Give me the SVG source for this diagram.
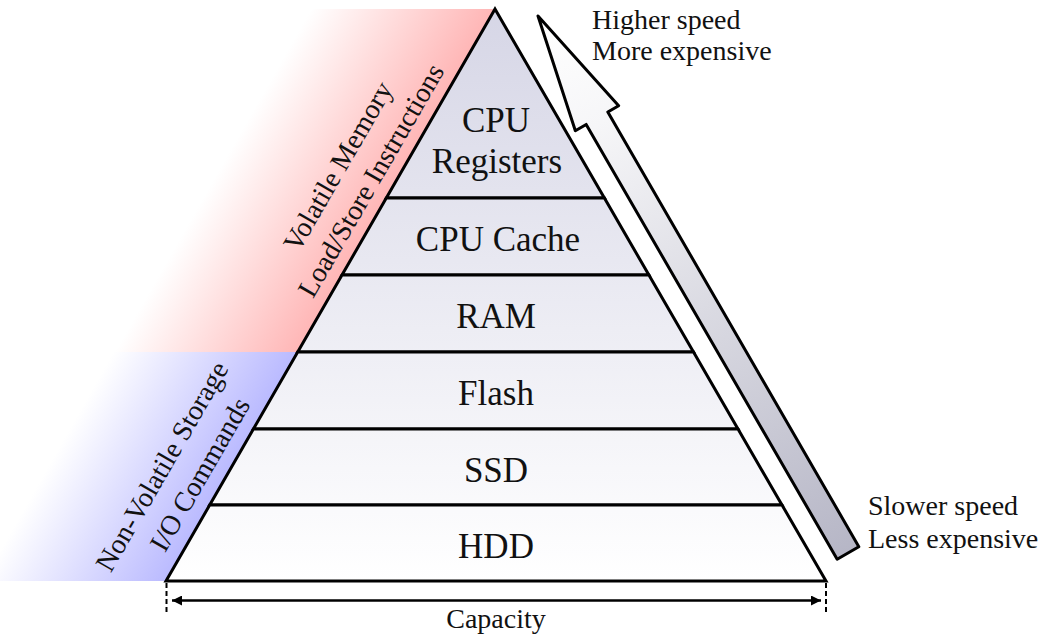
<svg xmlns="http://www.w3.org/2000/svg" width="1046" height="637" viewBox="0 0 1046 637">
<style>
  .band { stroke: #000; stroke-width: 3; stroke-linejoin: miter; fill: url(#bandGrad); }
  .lbl { font-family: "Liberation Serif", "Times New Roman", serif; font-size: 35px; fill: #111; text-anchor: middle; }
  .side { font-family: "Liberation Serif", "Times New Roman", serif; font-size: 28px; fill: #111; text-anchor: middle; }
  .note { font-family: "Liberation Serif", "Times New Roman", serif; font-size: 28px; fill: #111; }
  .dash { stroke: #000; stroke-width: 2; stroke-dasharray: 5 3; fill: none; }
</style>
<defs>
  <linearGradient id="bandGrad" gradientUnits="userSpaceOnUse" x1="0" y1="9" x2="0" y2="581">
    <stop offset="0" stop-color="#d6d6e6"/>
    <stop offset="1" stop-color="#ffffff"/>
  </linearGradient>
  <linearGradient id="redGrad" gradientUnits="userSpaceOnUse" x1="396" y1="181" x2="258" y2="102">
    <stop offset="0" stop-color="#ffb6b6"/>
    <stop offset="1" stop-color="#ffffff"/>
  </linearGradient>
  <linearGradient id="blueGrad" gradientUnits="userSpaceOnUse" x1="231.6" y1="467" x2="93" y2="388">
    <stop offset="0" stop-color="#babaff"/>
    <stop offset="1" stop-color="#ffffff"/>
  </linearGradient>
  <linearGradient id="shaftGrad" gradientUnits="userSpaceOnUse" x1="0" y1="0" x2="620" y2="0">
    <stop offset="0" stop-color="#ffffff"/>
    <stop offset="0.2" stop-color="#f6f6f8"/>
    <stop offset="1" stop-color="#b6b6c6"/>
  </linearGradient>
  <marker id="capHead" viewBox="0 0 10 10" refX="10" refY="5" markerWidth="17" markerHeight="10" markerUnits="userSpaceOnUse" orient="auto-start-reverse">
    <path d="M0,0 L10,5 L0,10 Z" fill="#000"/>
  </marker>
</defs>

<g id="volatile-region">
  <polygon points="0,9 495,9 297.7,352 0,352" fill="url(#redGrad)"/>
  <text class="side" transform="translate(346,171) rotate(-60)">Volatile Memory</text>
  <text class="side" transform="translate(379,185) rotate(-60)">Load/Store Instructions</text>
</g>
<g id="nonvolatile-region">
  <polygon points="0,352 297.7,352 166,581 0,581" fill="url(#blueGrad)"/>
  <text class="side" transform="translate(170,471) rotate(-60)">Non-Volatile Storage</text>
  <text class="side" transform="translate(208,479) rotate(-60)">I/O Commands</text>
</g>

<g id="cpu-registers">
  <polygon class="band" points="495,9 604.4,198 386.3,198"/>
  <text class="lbl" x="496" y="132">CPU</text>
  <text class="lbl" x="497" y="173">Registers</text>
</g>
<g id="cpu-cache">
  <polygon class="band" points="386.3,198 604.4,198 648.9,275 342,275"/>
  <text class="lbl" x="498" y="251">CPU Cache</text>
</g>
<g id="ram">
  <polygon class="band" points="342,275 648.9,275 693.5,352 297.7,352"/>
  <text class="lbl" x="496" y="328">RAM</text>
</g>
<g id="flash">
  <polygon class="band" points="297.7,352 693.5,352 738,429 253.4,429"/>
  <text class="lbl" x="496" y="405">Flash</text>
</g>
<g id="ssd">
  <polygon class="band" points="253.4,429 738,429 782,505 209.7,505"/>
  <text class="lbl" x="496" y="482">SSD</text>
</g>
<g id="hdd">
  <polygon class="band" points="209.7,505 782,505 826,581 166,581"/>
  <text class="lbl" x="496" y="558">HDD</text>
</g>

<g id="speed-arrow">
  <path transform="translate(538,16) rotate(60)" d="M0,0 L118,-25 L118,-12.5 L620,-12.5 L620,12.5 L118,12.5 L118,25 Z" fill="url(#shaftGrad)" stroke="#000" stroke-width="3" stroke-linejoin="round"/>
</g>
<g id="speed-labels">
  <text class="note" x="592" y="29">Higher speed</text>
  <text class="note" x="592" y="60">More expensive</text>
  <text class="note" x="868" y="515">Slower speed</text>
  <text class="note" x="868" y="548">Less expensive</text>
</g>

<g id="connectors">
  <line class="dash" x1="166.5" y1="583" x2="166.5" y2="613"/>
  <line class="dash" x1="826" y1="583" x2="826" y2="613"/>
  <line x1="172" y1="600.5" x2="821" y2="600.5" stroke="#000" stroke-width="2.5" marker-start="url(#capHead)" marker-end="url(#capHead)"/>
</g>
<g id="capacity-label">
  <text class="note" x="496" y="628" text-anchor="middle">Capacity</text>
</g>
</svg>
